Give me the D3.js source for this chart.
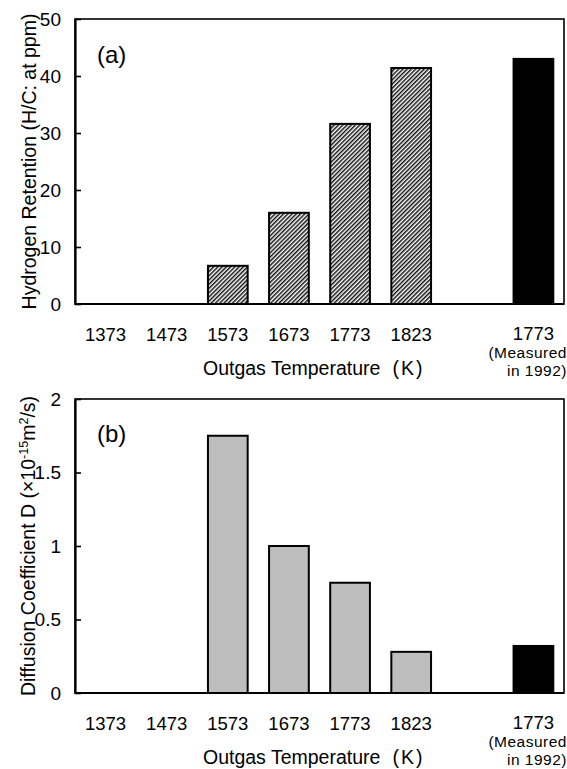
<!DOCTYPE html>
<html>
<head>
<meta charset="utf-8">
<script src="https://cdn.jsdelivr.net/npm/d3@7"></script>
<style>
  html, body { margin: 0; padding: 0; background: #fff; }
  svg { display: block; }
  text { font-family: "Liberation Sans", Arial, Helvetica, sans-serif; fill: #000; }
</style>
</head>
<body>
<svg id="chart" width="567" height="769"></svg>
<script>
// ---- data ----
const slots = ["1373", "1473", "1573", "1673", "1773", "1823", "gap", "1773-1992"];
const tickLabels = ["1373", "1473", "1573", "1673", "1773", "1823", "", "1773"];
const retention = [0, 0, 6.7, 16.0, 31.6, 41.4, null, 43.0];     // H/C at ppm
const diffusion = [0, 0, 1.75, 1.0, 0.75, 0.28, null, 0.32];     // x10^-15 m2/s
const retentionTicks = [0, 10, 20, 30, 40, 50];
const diffusionTicks = [0, 0.5, 1, 1.5, 2];
const measuredNote = ["(Measured", "in 1992)"];

const svg = d3.select("#chart");

const defs = svg.append("defs");
const pat = defs.append("pattern")
  .attr("id", "hatch")
  .attr("patternUnits", "userSpaceOnUse")
  .attr("width", 3).attr("height", 3)
  .attr("patternTransform", "rotate(45)");
pat.append("rect").attr("width", 3).attr("height", 3).attr("fill", "#fff");
pat.append("line").attr("x1", 0.75).attr("y1", 0).attr("x2", 0.75).attr("y2", 3)
  .attr("stroke", "#111").attr("stroke-width", 1.5);

const left = 75, right = 564;
const x = d3.scaleBand().domain(slots).range([left, right])
  .paddingInner(0.35).paddingOuter(0.175);

function panel(opts) {
  const { top, bottom, values, domain, ticks, fill, label, labelY, titleParts, titleX } = opts;
  const g = svg.append("g");
  const y = d3.scaleLinear().domain(domain).range([bottom, top]);

  // bars
  const data = slots.map((s, i) => ({ s, v: values[i], i })).filter(d => d.v !== null);
  g.selectAll("rect.bar").data(data).enter().append("rect")
    .attr("class", "bar")
    .attr("x", d => x(d.s))
    .attr("width", x.bandwidth())
    .attr("y", d => y(d.v))
    .attr("height", d => y(0) - y(d.v))
    .attr("fill", d => d.i === slots.length - 1 ? "#000" : fill)
    .attr("stroke", "#000")
    .attr("stroke-width", d => d.v === 0 ? 0 : 2);

  // frame
  g.append("rect")
    .attr("x", left).attr("y", top)
    .attr("width", right - left).attr("height", bottom - top)
    .attr("fill", "none").attr("stroke", "#000").attr("stroke-width", 1.6);

  // y axis
  const ya = g.append("g").attr("transform", `translate(${left},0)`)
    .call(d3.axisLeft(y).tickValues(ticks).tickSizeInner(-6).tickSizeOuter(0)
      .tickPadding(14).tickFormat(d3.format("~g")));
  ya.select(".domain").attr("stroke-width", 2.2);
  ya.selectAll(".tick line").attr("stroke-width", 1.6);
  ya.selectAll(".tick text").style("font-size", "19px").attr("font-family", null);

  // bottom axis line
  g.append("line").attr("x1", left).attr("x2", right).attr("y1", bottom).attr("y2", bottom)
    .attr("stroke", "#000").attr("stroke-width", 2.2);

  // x axis labels (all but the measured slot, which is drawn with its note)
  const last = slots.length - 1;
  const xa = g.append("g").attr("transform", `translate(0,${bottom})`)
    .call(d3.axisBottom(x).tickSize(0).tickPadding(24)
      .tickFormat((d, i) => i === last ? "" : tickLabels[i]));
  xa.select(".domain").remove();
  xa.selectAll(".tick text").style("font-size", "18.5px").attr("font-family", null);

  // measured label + note
  const cx = x(slots[last]) + x.bandwidth() / 2;
  g.append("text")
    .attr("x", cx).attr("y", bottom + 36)
    .attr("text-anchor", "middle")
    .style("font-size", "18.5px")
    .text(tickLabels[last]);
  measuredNote.forEach((t, k) => {
    g.append("text")
      .attr("x", 567)
      .attr("y", bottom + 54 + k * 17.5)
      .attr("text-anchor", "end")
      .style("font-size", "15.5px")
      .style("letter-spacing", "0.5px")
      .text(t);
  });

  // x title
  const xt = g.append("text")
    .attr("x", 203).attr("y", bottom + 71)
    .style("font-size", "19.5px");
  xt.append("tspan").text("Outgas Temperature");
  xt.append("tspan").attr("dx", 12).text("(");
  xt.append("tspan").attr("dx", 2).text("K");
  xt.append("tspan").attr("dx", 2).text(")");

  // panel label
  g.append("text")
    .attr("x", 97).attr("y", labelY)
    .style("font-size", "24px")
    .text(label);

  // y title
  const yt = g.append("text")
    .attr("transform", `translate(${titleX},${(top + bottom) / 2}) rotate(-90)`)
    .attr("text-anchor", "middle")
    .style("font-size", "19.5px");
  titleParts.forEach(p => {
    const ts = yt.append("tspan").text(p.t);
    if (p.sup) ts.style("font-size", "12.5px").attr("dy", p.dy);
    else if (p.dy) ts.attr("dy", p.dy);
  });
}

panel({
  top: 19, bottom: 304, values: retention, domain: [0, 50], ticks: retentionTicks,
  fill: "url(#hatch)", label: "(a)", labelY: 63, titleX: 36,
  titleParts: [{ t: "Hydrogen Retention (H/C: at ppm)" }]
});

panel({
  top: 399, bottom: 693, values: diffusion, domain: [0, 2], ticks: diffusionTicks,
  fill: "#bebebe", label: "(b)", labelY: 442, titleX: 35,
  titleParts: [
    { t: "Diffusion Coefficient D (\u00D710" },
    { t: "-15", sup: true, dy: -7 },
    { t: "m", dy: 7 },
    { t: "2", sup: true, dy: -7 },
    { t: "/s)", dy: 7 }
  ]
});
</script>
</body>
</html>
